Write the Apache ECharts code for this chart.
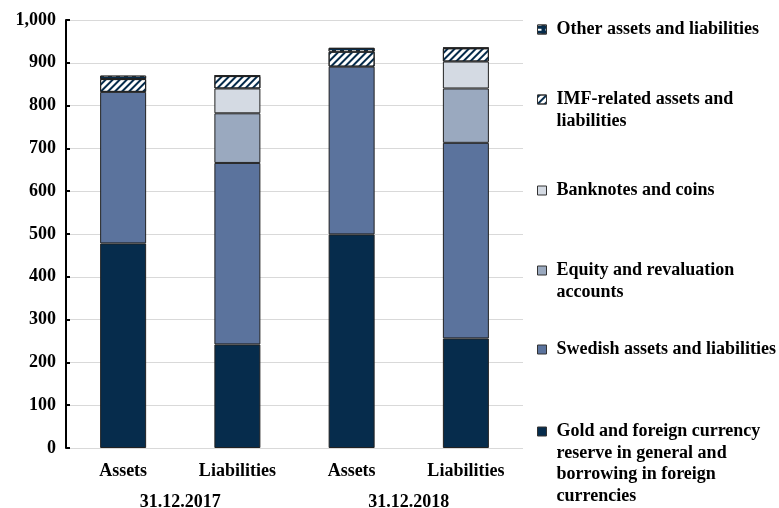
<!DOCTYPE html>
<html>
<head>
<meta charset="utf-8">
<script src="https://cdn.jsdelivr.net/npm/echarts@6/dist/echarts.min.js"></script>
<style>
  html, body { margin: 0; padding: 0; background: #fff; }
  #chart { width: 779px; height: 508px; }
</style>
</head>
<body>
<div id="chart"></div>
<script>
// Riksbank balance sheet, SEK billion
const categories = ['Assets', 'Liabilities', 'Assets', 'Liabilities'];
const dates = ['31.12.2017', '31.12.2018'];
const yTicks = [0, 100, 200, 300, 400, 500, 600, 700, 800, 900, 1000];

const goldForeign = [478, 242, 499, 256];
const swedish = [354, 424, 392, 457];
const equity = ['-', 116, '-', 127];
const banknotes = ['-', 58, '-', 63];
const imf = [30, 29, 35, 31];
const other = [8, 1, 9, 1];

const NAVY = '#062c4c';
const FONT = '"Liberation Serif", "DejaVu Serif", serif';
const FS = 18;
const LH = 21.6;

const names = {
  gold: 'Gold and foreign currency reserve in general and borrowing in foreign currencies',
  swe: 'Swedish assets and liabilities',
  eq: 'Equity and revaluation accounts',
  bank: 'Banknotes and coins',
  imf: 'IMF-related assets and liabilities',
  other: 'Other assets and liabilities'
};

// legend text broken onto lines
const legendLines = {};
legendLines[names.gold] = ['Gold and foreign currency', 'reserve in general and', 'borrowing in foreign', 'currencies'];
legendLines[names.swe] = ['Swedish assets and liabilities'];
legendLines[names.eq] = ['Equity and revaluation', 'accounts'];
legendLines[names.bank] = ['Banknotes and coins'];
legendLines[names.imf] = ['IMF-related assets and', 'liabilities'];
legendLines[names.other] = ['Other assets and liabilities'];

// Legend swatch: a 9px square level with the first text line; the
// zero-length strokes stretch the path box to the full item size.
function swatchPath(h) {
  const y0 = LH / 2 - 4.5;
  return 'path://M0,0L0,0M14,' + h + 'L14,' + h +
    'M0,' + y0 + 'L9,' + y0 + 'L9,' + (y0 + 9) + 'L0,' + (y0 + 9) + 'Z';
}

function legendFor(name, firstLineCenter) {
  const lines = legendLines[name];
  const h = lines.length * LH;
  return {
    data: [name],
    orient: 'vertical',
    left: 537,
    top: firstLineCenter - LH / 2,
    icon: swatchPath(h),
    itemWidth: 14,
    itemHeight: h,
    itemGap: 0,
    padding: 0,
    selectedMode: false,
    itemStyle: { borderColor: '#333', borderWidth: 1 },
    formatter: function () { return lines.join('\n'); },
    textStyle: {
      fontFamily: FONT,
      fontWeight: 'bold',
      fontSize: FS,
      color: '#000',
      lineHeight: LH
    }
  };
}

const barBorder = { borderColor: '#222', borderWidth: 1 };

function barSeries(name, data, style) {
  return {
    name: name,
    type: 'bar',
    stack: 'total',
    barWidth: 46,
    data: data,
    itemStyle: Object.assign({}, barBorder, style),
    emphasis: { disabled: true }
  };
}

const chart = echarts.init(document.getElementById('chart'), null, { renderer: 'canvas' });

chart.setOption({
  animation: false,
  backgroundColor: '#fff',
  grid: { left: 66, right: 256, top: 20, bottom: 60, containLabel: false, outerBoundsMode: 'none' },
  legend: [
    legendFor(names.other, 29),
    legendFor(names.imf, 99),
    legendFor(names.bank, 190),
    legendFor(names.eq, 270),
    legendFor(names.swe, 349),
    legendFor(names.gold, 431)
  ],
  xAxis: [
    {
      type: 'category',
      data: categories,
      axisLine: { show: false },
      axisTick: { show: false },
      axisLabel: {
        margin: 14,
        fontFamily: FONT, fontWeight: 'bold', fontSize: FS, color: '#000'
      }
    },
    {
      type: 'category',
      data: dates,
      position: 'bottom',
      offset: 31,
      axisLine: { show: false },
      axisTick: { show: false },
      axisLabel: {
        margin: 14,
        fontFamily: FONT, fontWeight: 'bold', fontSize: FS, color: '#000'
      }
    }
  ],
  yAxis: {
    type: 'value',
    min: yTicks[0],
    max: yTicks[yTicks.length - 1],
    interval: yTicks[1] - yTicks[0],
    axisLine: { show: true, lineStyle: { color: '#000', width: 2 } },
    axisTick: { show: true, inside: true, length: 4, lineStyle: { color: '#000', width: 2 } },
    splitLine: { show: true, lineStyle: { color: '#d9d9d9', width: 1 } },
    axisLabel: {
      margin: 10,
      fontFamily: FONT, fontWeight: 'bold', fontSize: FS, color: '#000',
      formatter: function (v) { return v.toLocaleString('en-US'); }
    }
  },
  series: [
    barSeries(names.gold, goldForeign, { color: NAVY }),
    barSeries(names.swe, swedish, { color: '#5b739d' }),
    barSeries(names.eq, equity, { color: '#9aa9bf' }),
    barSeries(names.bank, banknotes, { color: '#d4dae3' }),
    barSeries(names.imf, imf, {
      color: '#ffffff',
      decal: {
        symbol: 'rect',
        symbolSize: 1,
        color: NAVY,
        dashArrayX: [1, 0],
        dashArrayY: [2, 3],
        rotation: -Math.PI / 4
      }
    }),
    barSeries(names.other, other, {
      color: NAVY,
      decal: {
        symbol: 'rect',
        symbolSize: 1,
        color: '#ffffff',
        dashArrayX: [[4, 4]],
        dashArrayY: [2, 3],
        rotation: 0
      }
    })
  ]
});
</script>
</body>
</html>
